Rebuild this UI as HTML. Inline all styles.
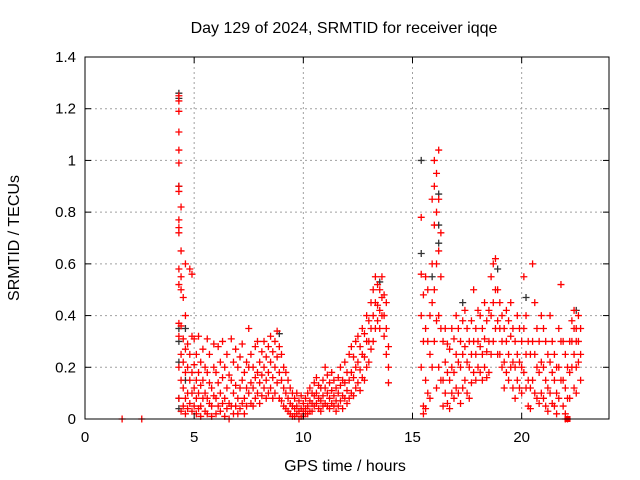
<!DOCTYPE html>
<html><head><meta charset="utf-8"><style>
body{margin:0;background:#fff}
svg{display:block;font-family:"Liberation Sans",sans-serif}
</style></head><body>
<svg id="chart" width="640" height="480" xmlns="http://www.w3.org/2000/svg">
<rect width="640" height="480" fill="#fff"/>
<text x="344" y="33" text-anchor="middle" font-size="16">Day 129 of 2024, SRMTID for receiver iqqe</text>
<g id="grid"></g>
<g id="pts"></g>
<rect x="85" y="57" width="524" height="362" fill="none" stroke="#000"/>
<g id="axes"></g>
<text x="345" y="471" text-anchor="middle" font-size="16">GPS time / hours</text>
<text transform="translate(19,238) rotate(-90)" text-anchor="middle" font-size="16">SRMTID / TECUs</text>
</svg>
<script>
const xTicks=[0,5,10,15,20];
const yTicks=[0,0.2,0.4,0.6,0.8,1,1.2,1.4];
const yTickLabels=["0","0.2","0.4","0.6","0.8","1","1.2","1.4"];
const redRows=[
[1.7,0],[2.6,0],
[4.3,1.25,1.23,1.19,1.11,1.04,0.99,0.9,0.88,0.77,0.74,0.72,0.58,0.52,0.37,0.32,0.2,0.08],
[4.4,0.82,0.65,0.55,0.5,0.36,0.25,0.15,0.03],[4.5,0.47,0.31,0.22,0.12,0.05],
[4.6,0.6,0.4,0.27,0.18,0.08,0.02],[4.7,0.29,0.2,0.1,0.04],[4.8,0.58,0.25,0.15,0.06],
[4.9,0.56,0.32,0.18,0.1,0.03],[5.0,0.31,0.21,0.12,0.05],[5.1,0.25,0.15,0.08,0.02],
[5.2,0.32,0.18,0.1,0.04],[5.3,0.22,0.13,0.05,0.01],[5.4,0.27,0.15,0.08],[5.5,0.2,0.1,0.03],
[5.6,0.31,0.18,0.08,0.02],[5.7,0.25,0.14,0.06],[5.8,0.12,0.05,0.01],[5.9,0.29,0.2,0.09],
[6.0,0.18,0.08,0.02],[6.1,0.28,0.14,0.05],[6.2,0.22,0.1,0.03],[6.3,0.3,0.16,0.06],
[6.4,0.2,0.08,0.01],[6.5,0.25,0.12,0.04],[6.6,0.17,0.06,0.0],[6.7,0.31,0.15,0.05],
[6.8,0.22,0.1,0.02],[6.9,0.27,0.13,0.05],[7.0,0.2,0.08,0.02],[7.1,0.24,0.12,0.04],
[7.2,0.29,0.15,0.06],[7.3,0.18,0.08,0.02],[7.4,0.22,0.12,0.05],[7.5,0.35,0.2,0.1],
[7.6,0.25,0.14,0.06],[7.7,0.2,0.12,0.05],[7.8,0.28,0.16,0.08],[7.9,0.3,0.18,0.1],
[8.0,0.22,0.14,0.06],[8.1,0.26,0.17,0.09],[8.2,0.3,0.2,0.12],[8.3,0.24,0.15,0.08],
[8.4,0.28,0.18,0.1],[8.5,0.32,0.22,0.12],[8.6,0.26,0.16,0.08],[8.7,0.3,0.2,0.1],
[8.8,0.34,0.24,0.14],[8.9,0.28,0.18,0.08],[9.0,0.25,0.15,0.07],[9.1,0.2,0.12,0.05],
[9.2,0.18,0.1,0.04],[9.3,0.15,0.08,0.03],[9.4,0.12,0.06,0.02],[9.5,0.1,0.05,0.01],
[9.6,0.08,0.04,0.01],[9.7,0.1,0.05,0.02],[9.8,0.07,0.03,0.0],[9.9,0.09,0.04,0.01],
[10.0,0.06,0.03,0.01],[10.1,0.08,0.04,0.02],[10.2,0.1,0.05,0.02],[10.3,0.12,0.07,0.03],
[10.4,0.1,0.06,0.03],[10.5,0.14,0.09,0.05],[10.6,0.16,0.1,0.06],[10.7,0.13,0.08,0.04],
[10.8,0.12,0.07,0.03],[10.9,0.15,0.09,0.05],[11.0,0.2,0.12,0.06],[11.1,0.17,0.1,0.05],
[11.2,0.14,0.08,0.04],[11.3,0.18,0.11,0.06],[11.4,0.15,0.09,0.05],[11.5,0.12,0.07,0.03],
[11.6,0.16,0.1,0.05],[11.7,0.2,0.13,0.07],[11.8,0.15,0.09,0.04],[11.9,0.22,0.14,0.08],
[12.0,0.18,0.11,0.06],[12.1,0.25,0.15,0.08],[12.2,0.28,0.18,0.1],[12.3,0.24,0.16,0.09],
[12.4,0.3,0.2,0.12],[12.5,0.32,0.22,0.14],[12.6,0.28,0.19,0.11],[12.7,0.35,0.25,0.16],
[12.8,0.33,0.24,0.15],[12.9,0.4,0.3,0.2],[13.0,0.38,0.3,0.22],[13.1,0.45,0.35,0.27],
[13.2,0.5,0.4,0.3],[13.3,0.55,0.45,0.35],[13.4,0.52,0.44,0.38],[13.5,0.5,0.42,0.35],
[13.6,0.55,0.47,0.4],[13.7,0.48,0.4,0.32],[13.8,0.45,0.35,0.25],[13.9,0.28,0.2,0.14],
[15.4,0.78,0.56,0.4,0.2],[15.5,0.48,0.3,0.05,0.02],[15.6,0.55,0.35,0.15,0.04],
[15.7,0.5,0.3,0.1],[15.8,0.4,0.25,0.08],[15.9,0.85,0.6,0.45,0.2],[16.0,1.0,0.9,0.75,0.5,0.3],
[16.1,0.95,0.8,0.6,0.38,0.12],[16.2,1.04,0.85,0.65,0.4,0.2],[16.3,0.72,0.55,0.35,0.15],
[16.4,0.3,0.15,0.05],[16.5,0.35,0.22,0.1],[16.6,0.29,0.18,0.06],[16.7,0.27,0.15,0.04],
[16.8,0.35,0.2,0.1],[16.9,0.31,0.18,0.08],[17.0,0.4,0.25,0.12],[17.1,0.35,0.22,0.1],
[17.2,0.3,0.2,0.06],[17.3,0.38,0.25,0.12],[17.4,0.42,0.28,0.15],[17.5,0.35,0.22,0.1],
[17.6,0.3,0.2,0.08],[17.7,0.38,0.25,0.14],[17.8,0.5,0.3,0.18],[17.9,0.35,0.25,0.15],
[18.0,0.42,0.3,0.2],[18.1,0.4,0.28,0.18],[18.2,0.35,0.25,0.15],[18.3,0.45,0.31,0.2],
[18.4,0.38,0.26,0.16],[18.5,0.42,0.3,0.18],[18.6,0.55,0.4,0.25],[18.7,0.6,0.45,0.3],
[18.8,0.62,0.5,0.35],[18.9,0.5,0.38,0.25],[19.0,0.45,0.35,0.25],[19.1,0.4,0.3,0.2],
[19.2,0.35,0.22,0.12],[19.3,0.42,0.3,0.18],[19.4,0.38,0.25,0.15],[19.5,0.45,0.32,0.2],
[19.6,0.35,0.22,0.12],[19.7,0.3,0.2,0.08],[19.8,0.4,0.25,0.15],[19.9,0.35,0.22,0.12],
[20.0,0.3,0.2,0.1],[20.1,0.55,0.35,0.18],[20.2,0.4,0.25,0.12],[20.3,0.3,0.15,0.05],
[20.4,0.25,0.12,0.04],[20.5,0.6,0.3,0.15],[20.6,0.45,0.25,0.1],[20.7,0.35,0.2,0.08],
[20.8,0.3,0.18,0.06],[20.9,0.4,0.22,0.1],[21.0,0.35,0.2,0.08],[21.1,0.3,0.15,0.05],
[21.2,0.25,0.12,0.03],[21.3,0.4,0.22,0.1],[21.4,0.3,0.18,0.06],[21.5,0.25,0.15,0.05],
[21.6,0.2,0.1,0.02],[21.7,0.35,0.2,0.08],[21.8,0.52,0.3,0.15],[21.9,0.3,0.15,0.05],
[22.0,0.25,0.12,0.02,0.0],[22.1,0.2,0.08,0.0],[22.2,0.3,0.18,0.08],[22.3,0.38,0.3,0.2],
[22.4,0.42,0.35,0.25,0.12],[22.5,0.35,0.3,0.2,0.1],[22.6,0.4,0.3,0.22],[22.7,0.35,0.25,0.15]
];
const blackRows=[
[4.3,1.26,1.24,0.9,0.35,0.3,0.22,0.08,0.04],[4.6,0.35,0.15],[8.9,0.33],[13.5,0.53],
[15.4,1.0,0.64],[15.9,0.55],[16.2,0.87,0.75,0.68],[17.3,0.45],[18.9,0.58],[20.2,0.47],[22.5,0.42]
];
const X0=85,X1=609,Y0=419,Y1=57,XMAX=24,YMAX=1.4;
function sx(t){return X0+(X1-X0)*t/XMAX;}
function sy(v){return Y0-(Y0-Y1)*v/YMAX;}
const NS="http://www.w3.org/2000/svg";
function mk(tag,attrs,parent){const e=document.createElementNS(NS,tag);for(const k in attrs)e.setAttribute(k,attrs[k]);parent.appendChild(e);return e;}
const grid=document.getElementById('grid'),axes=document.getElementById('axes'),pts=document.getElementById('pts');
xTicks.forEach(t=>{const x=sx(t);
 if(t>0){const g=mk('line',{x1:x,x2:x,y1:Y1,y2:Y0,stroke:'#a0a0a0','stroke-dasharray':'2,3'},grid);
 
 }
 mk('line',{x1:x,x2:x,y1:Y0,y2:Y0-6,stroke:'#000'},axes);mk('line',{x1:x,x2:x,y1:Y1,y2:Y1+6,stroke:'#000'},axes);
 const l=mk('text',{x:x,y:Y0+23,'text-anchor':'middle','font-size':'15'},axes);l.textContent=t;
 
 });
yTicks.forEach((v,i)=>{const y=sy(v);
 if(v>0&&v<YMAX){const g=mk('line',{x1:X0,x2:X1,y1:y,y2:y,stroke:'#a0a0a0','stroke-dasharray':'2,3'},grid);
 
 }
 mk('line',{x1:X0,x2:X0+6,y1:y,y2:y,stroke:'#000'},axes);mk('line',{x1:X1,x2:X1-6,y1:y,y2:y,stroke:'#000'},axes);
 const l=mk('text',{x:X0-9,y:y+5,'text-anchor':'end','font-size':'15'},axes);l.textContent=yTickLabels[i];
 
 });
function plus(t,v,col,name){const x=sx(t),y=sy(v);
 const p=mk('path',{d:`M${x-3.5} ${y}h7M${x} ${y-3.5}v7`,stroke:col,'stroke-width':1.3,fill:'none'},pts);
 
 }
blackRows.forEach(r=>{for(let i=1;i<r.length;i++)plus(r[0],r[i],'#333','black-point');});
redRows.forEach(r=>{for(let i=1;i<r.length;i++)plus(r[0],r[i],'#f00','red-point');});
const sq=mk('rect',{x:sx(22.1)-3,y:sy(0)-3,width:6,height:6,fill:'#f00'},pts);


</script>
</body></html>
